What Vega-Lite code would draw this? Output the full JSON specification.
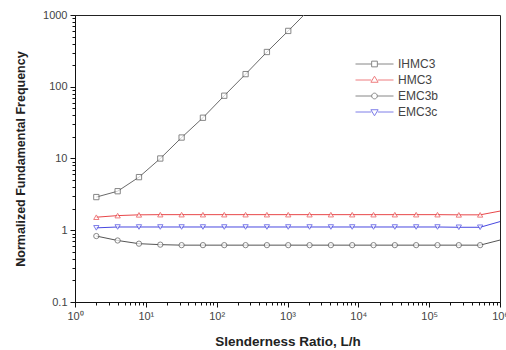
{
  "$schema": "https://vega.github.io/schema/vega-lite/v6.json",
  "width": 425,
  "height": 287,
  "autosize": {"type": "none"},
  "padding": {"left": 75, "top": 15, "right": 6, "bottom": 48},
  "background": "white",
  "config": {
    "font": "Liberation Sans",
    "view": {"stroke": "#222", "strokeWidth": 1},
    "axis": {"grid": false, "domainColor": "#111", "tickColor": "#111", "labelColor": "#444", "labelFont": "Liberation Sans", "labelFontSize": 11, "titleFont": "Liberation Sans", "titleFontWeight": "bold", "titleColor": "#222", "titleFontSize": 12.5}
  },
  "data": {"values": [
    {"series": "IHMC3", "x": 2, "y": 2.9},
    {"series": "IHMC3", "x": 4, "y": 3.5},
    {"series": "IHMC3", "x": 8, "y": 5.5},
    {"series": "IHMC3", "x": 16, "y": 10},
    {"series": "IHMC3", "x": 32, "y": 19.6},
    {"series": "IHMC3", "x": 64, "y": 37},
    {"series": "IHMC3", "x": 128, "y": 75},
    {"series": "IHMC3", "x": 256, "y": 150},
    {"series": "IHMC3", "x": 512, "y": 305},
    {"series": "IHMC3", "x": 1024, "y": 600},
    {"series": "IHMC3", "x": 2048, "y": 1200},
    {"series": "HMC3", "x": 2, "y": 1.52},
    {"series": "HMC3", "x": 4, "y": 1.6},
    {"series": "HMC3", "x": 8, "y": 1.64},
    {"series": "HMC3", "x": 16, "y": 1.65},
    {"series": "HMC3", "x": 32, "y": 1.65},
    {"series": "HMC3", "x": 64, "y": 1.65},
    {"series": "HMC3", "x": 128, "y": 1.65},
    {"series": "HMC3", "x": 256, "y": 1.65},
    {"series": "HMC3", "x": 512, "y": 1.65},
    {"series": "HMC3", "x": 1024, "y": 1.65},
    {"series": "HMC3", "x": 2048, "y": 1.65},
    {"series": "HMC3", "x": 4096, "y": 1.65},
    {"series": "HMC3", "x": 8192, "y": 1.65},
    {"series": "HMC3", "x": 16384, "y": 1.65},
    {"series": "HMC3", "x": 32768, "y": 1.65},
    {"series": "HMC3", "x": 65536, "y": 1.65},
    {"series": "HMC3", "x": 131072, "y": 1.65},
    {"series": "HMC3", "x": 262144, "y": 1.64},
    {"series": "HMC3", "x": 524288, "y": 1.64},
    {"series": "HMC3", "x": 1000000, "y": 1.85},
    {"series": "EMC3b", "x": 2, "y": 0.83},
    {"series": "EMC3b", "x": 4, "y": 0.72},
    {"series": "EMC3b", "x": 8, "y": 0.65},
    {"series": "EMC3b", "x": 16, "y": 0.63},
    {"series": "EMC3b", "x": 32, "y": 0.62},
    {"series": "EMC3b", "x": 64, "y": 0.62},
    {"series": "EMC3b", "x": 128, "y": 0.62},
    {"series": "EMC3b", "x": 256, "y": 0.62},
    {"series": "EMC3b", "x": 512, "y": 0.62},
    {"series": "EMC3b", "x": 1024, "y": 0.62},
    {"series": "EMC3b", "x": 2048, "y": 0.62},
    {"series": "EMC3b", "x": 4096, "y": 0.62},
    {"series": "EMC3b", "x": 8192, "y": 0.62},
    {"series": "EMC3b", "x": 16384, "y": 0.62},
    {"series": "EMC3b", "x": 32768, "y": 0.62},
    {"series": "EMC3b", "x": 65536, "y": 0.62},
    {"series": "EMC3b", "x": 131072, "y": 0.62},
    {"series": "EMC3b", "x": 262144, "y": 0.62},
    {"series": "EMC3b", "x": 524288, "y": 0.62},
    {"series": "EMC3b", "x": 1000000, "y": 0.73},
    {"series": "EMC3c", "x": 2, "y": 1.08},
    {"series": "EMC3c", "x": 4, "y": 1.11},
    {"series": "EMC3c", "x": 8, "y": 1.11},
    {"series": "EMC3c", "x": 16, "y": 1.11},
    {"series": "EMC3c", "x": 32, "y": 1.11},
    {"series": "EMC3c", "x": 64, "y": 1.11},
    {"series": "EMC3c", "x": 128, "y": 1.11},
    {"series": "EMC3c", "x": 256, "y": 1.11},
    {"series": "EMC3c", "x": 512, "y": 1.11},
    {"series": "EMC3c", "x": 1024, "y": 1.11},
    {"series": "EMC3c", "x": 2048, "y": 1.11},
    {"series": "EMC3c", "x": 4096, "y": 1.11},
    {"series": "EMC3c", "x": 8192, "y": 1.11},
    {"series": "EMC3c", "x": 16384, "y": 1.11},
    {"series": "EMC3c", "x": 32768, "y": 1.11},
    {"series": "EMC3c", "x": 65536, "y": 1.11},
    {"series": "EMC3c", "x": 131072, "y": 1.11},
    {"series": "EMC3c", "x": 262144, "y": 1.1},
    {"series": "EMC3c", "x": 524288, "y": 1.1},
    {"series": "EMC3c", "x": 1000000, "y": 1.32}
  ]},
  "encoding": {
    "x": {
      "field": "x", "type": "quantitative",
      "scale": {"type": "log", "domain": [1, 1000000], "nice": false},
      "axis": {
        "title": "Slenderness Ratio, L/h",
        "values": [1,2,3,4,5,6,7,8,9,10,20,30,40,50,60,70,80,90,100,200,300,400,500,600,700,800,900,1000,2000,3000,4000,5000,6000,7000,8000,9000,10000,20000,30000,40000,50000,60000,70000,80000,90000,100000,200000,300000,400000,500000,600000,700000,800000,900000,1000000],
        "labelExpr": "abs(log(datum.value)/LN10 - round(log(datum.value)/LN10)) < 0.001 ? '10' + ['⁰','¹','²','³','⁴','⁵','⁶'][round(log(datum.value)/LN10)] : ''",
        "tickSize": {"condition": {"test": "abs(log(datum.value)/LN10 - round(log(datum.value)/LN10)) < 0.001", "value": 5}, "value": 3},
        "labelPadding": 3,
        "labelFlush": false,
        "labelOverlap": false,
        "titleFontSize": 13.5,
        "titlePadding": 13
      }
    },
    "y": {
      "field": "y", "type": "quantitative",
      "scale": {"type": "log", "domain": [0.1, 1000], "nice": false},
      "axis": {
        "title": "Normalized Fundamental Frequency",
        "values": [0.1,0.2,0.3,0.4,0.5,0.6,0.7,0.8,0.9,1,2,3,4,5,6,7,8,9,10,20,30,40,50,60,70,80,90,100,200,300,400,500,600,700,800,900,1000],
        "labelExpr": "abs(log(datum.value)/LN10 - round(log(datum.value)/LN10)) < 0.001 ? format(datum.value, '~g') : ''",
        "tickSize": {"condition": {"test": "abs(log(datum.value)/LN10 - round(log(datum.value)/LN10)) < 0.001", "value": 5}, "value": 3},
        "labelPadding": 3,
        "labelFlush": false,
        "labelOverlap": false,
        "titlePadding": 15
      }
    }
  },
  "layer": [
    {
      "mark": {"type": "line", "strokeWidth": 1, "clip": true},
      "encoding": {
        "color": {"field": "series", "type": "nominal", "legend": null,
          "scale": {"domain": ["EMC3b", "EMC3c", "HMC3", "IHMC3"], "range": ["#555555", "#4848e0", "#e8474a", "#6a6a6a"]}}
      }
    },
    {
      "transform": [{"filter": "datum.x < 1000000"}],
      "mark": {"type": "point", "filled": true, "fill": "white", "strokeWidth": 1, "size": 28, "clip": true},
      "encoding": {
        "stroke": {"field": "series", "type": "nominal",
          "scale": {"domain": ["IHMC3", "HMC3", "EMC3b", "EMC3c"], "range": ["#555555", "#e8474a", "#555555", "#4848e0"]},
          "legend": {
            "title": null, "orient": "none", "legendX": 289.5, "legendY": 39,
            "labelFont": "Liberation Sans", "labelFontSize": 12, "labelColor": "#444",
            "symbolSize": 361, "symbolStrokeWidth": 1, "symbolFillColor": "white", "labelOffset": 13.5, "rowPadding": -3,
            "symbolType": {"expr": "datum.value === 'IHMC3' ? 'M-2,0H-0.3M0.3,0H2M-0.3,-0.3H0.3V0.3H-0.3Z' : datum.value === 'HMC3' ? 'M-2,0H-0.34M0.34,0H2M-0.38,0.24L0,-0.4L0.38,0.24Z' : datum.value === 'EMC3b' ? 'M-2,0H-0.3M0.3,0H2M-0.3,0A0.3,0.3,0,1,0,0.3,0A0.3,0.3,0,1,0,-0.3,0Z' : 'M-2,0H-0.34M0.34,0H2M-0.38,-0.24L0.38,-0.24L0,0.4Z'"}
          }
        },
        "shape": {"field": "series", "type": "nominal", "legend": null,
          "scale": {"domain": ["HMC3", "IHMC3", "EMC3c", "EMC3b"], "range": ["triangle-up", "square", "triangle-down", "circle"]}}
      }
    },
    {
      "data": {"values": [{"label": "α = 300°"}]},
      "mark": {"type": "text", "align": "left", "baseline": "middle", "fontSize": 11, "color": "#333", "font": "Liberation Sans"},
      "encoding": {
        "x": {"datum": 1.3, "type": "quantitative"},
        "y": {"datum": 620, "type": "quantitative"},
        "text": {"field": "label", "type": "nominal"}
      }
    }
  ]
}
